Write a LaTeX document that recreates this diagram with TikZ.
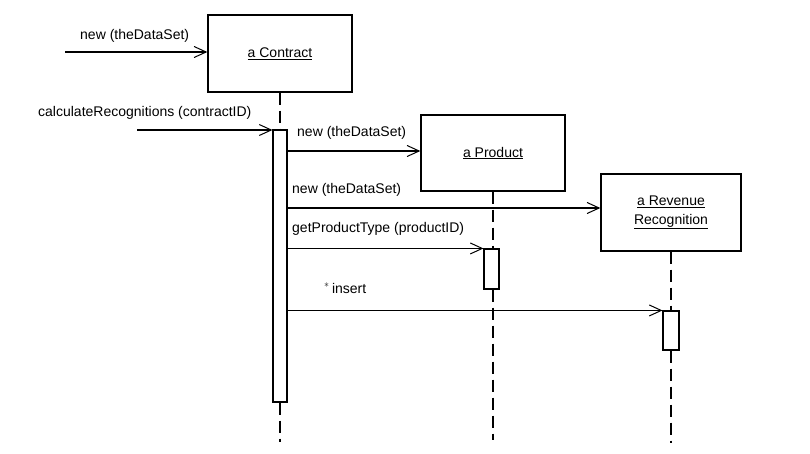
\documentclass[tikz,border=0pt]{standalone}
\usepackage{fontspec}
\setmainfont{Liberation Sans}
\usetikzlibrary{arrows.meta}
\begin{document}
\begin{tikzpicture}[x=1pt,y=-1pt,
  font=\fontsize{14}{17}\selectfont,
  objbox/.style={draw, line width=1.4pt, inner sep=0pt, align=center},
  actbar/.style={draw, line width=1.1pt, fill=white, inner sep=0pt},
  lifeline/.style={line width=1.3pt, dash pattern=on 12pt off 6pt},
  msg/.style={line width=1.2pt, -{Straight Barb[length=12pt,width=11pt,line width=1pt]}},
  lbl/.style={anchor=west, inner sep=0pt}]
\useasboundingbox (0,0) rectangle (810,453);

% objects
\node[objbox, minimum width=144pt, minimum height=77pt] (contract) at (280,53.5) {\underline{a Contract}};
\node[objbox, minimum width=144pt, minimum height=76pt] (product) at (493,153) {\underline{a Product}};
\node[objbox, minimum width=140pt, minimum height=77pt] (revenue) at (671,212.5)
  {\underline{a Revenue}\\[2pt]\underline{Recognition}};

% activation bars
\node[actbar, minimum width=14pt, minimum height=272pt] (actC) at (280,266) {};
\node[actbar, minimum width=15pt, minimum height=40pt] (actP) at (491.5,269) {};
\node[actbar, minimum width=16pt, minimum height=39pt] (actR) at (671,330.5) {};

% lifelines
\coordinate (endC) at (280,442);
\coordinate (endP) at (493,440);
\coordinate (endR) at (671,443);
\draw[lifeline] (contract.south) -- (actC.north);
\draw[lifeline] (actC.south) -- (endC);
\draw[lifeline] (product.south) -- (actP.north -| product.south);
\draw[lifeline] (actP.south -| product.south) -- (endP);
\draw[lifeline] (revenue.south) -- (actR.north);
\draw[lifeline] (actR.south) -- (endR);

% incoming messages
\coordinate (in1) at (65,52);
\coordinate (in2) at (137,130);
\draw[msg] (in1) -- (in1 -| contract.west);
\node[lbl] (l1) at (80,36) {new (theDataSet)};
\draw[msg] (in2) -- (in2 -| actC.west);
\node[lbl] (l2) at (38,113) {calculateRecognitions (contractID)};

% messages sent by the contract
\draw[msg] (actC.east |- 0,151) -- (product.west |- 0,151);
\node[lbl] (l3) at (297,133) {new (theDataSet)};
\draw[msg] (actC.east |- 0,208) -- (revenue.west |- 0,208);
\node[lbl] (l4) at (292,190) {new (theDataSet)};
\draw[msg] (actC.east |- actP.north) -- (actP.north west);
\node[lbl] (l5) at (292,229) {getProductType (productID)};
\draw[msg] (actC.east |- actR.north) -- (actR.north west);
\node[lbl] (l6) at (324,288) {$^{*}$\,insert};
\end{tikzpicture}
\end{document}
